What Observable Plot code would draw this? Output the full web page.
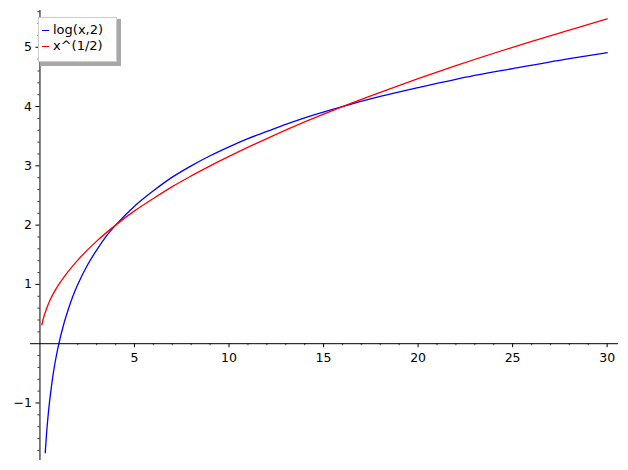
<!DOCTYPE html>
<html>
<head>
<meta charset="utf-8">
<script src="https://cdn.jsdelivr.net/npm/d3@7"></script>
<script src="https://cdn.jsdelivr.net/npm/@observablehq/plot@0.6"></script>
<style>
  body { margin: 0; background: #fff; font-family: "DejaVu Sans", sans-serif; }
  #wrap { position: relative; width: 628px; height: 470px; }
  #legend {
    position: absolute; left: 38px; top: 17px; width: 79px; height: 45px;
    background: #fff; border: 1px solid #cccccc; box-sizing: border-box;
    box-shadow: 3px 3px 0 1px #a8a8a8;
    font: 13px "DejaVu Sans", sans-serif; color: #000;
  }
  .row { position: absolute; left: 3px; height: 16px; line-height: 16px; white-space: nowrap; }
  .sw { display: inline-block; width: 7px; height: 0; border-top: 1.3px solid; vertical-align: middle; margin-right: 4px; }
</style>
</head>
<body>
<div id="wrap"></div>
<script>
// Series
const logX = [0.28, 0.3, 0.35, 0.4, 0.45, 0.5, 0.6, 0.7, 0.8, 0.9, 1, 1.25, 1.5, 1.75, 2, 2.5, 3, 3.5, 4, 5, 6, 7, 8, 9, 10, 11, 12, 13, 14, 16, 18, 20, 22, 25, 28, 30];
const logY = [-1.84, -1.74, -1.51, -1.32, -1.15, -1, -0.74, -0.51, -0.32, -0.15, 0, 0.32, 0.58, 0.81, 1, 1.32, 1.58, 1.81, 2, 2.32, 2.58, 2.81, 3, 3.17, 3.32, 3.46, 3.58, 3.70, 3.81, 4, 4.17, 4.32, 4.46, 4.64, 4.81, 4.91];
const sqrtX = [0.1, 0.2, 0.35, 0.5, 0.75, 1, 1.5, 2, 3, 4, 5, 6, 7, 8, 9, 10, 12, 14, 16, 18, 20, 22, 25, 28, 30];
const sqrtY = [0.32, 0.45, 0.59, 0.71, 0.87, 1, 1.22, 1.41, 1.73, 2, 2.24, 2.45, 2.65, 2.83, 3, 3.16, 3.46, 3.74, 4, 4.24, 4.47, 4.69, 5, 5.29, 5.48];
const seriesNames = ["log(x,2)", "x^(1/2)"];
const seriesColors = ["blue", "red"];

// Tick labels
const xMajor = [5, 10, 15, 20, 25, 30];
const yMajor = [-1, 1, 2, 3, 4, 5];
const xMinor = d3.range(1, 31).filter(v => v % 5 !== 0);
const yMinor = d3.range(-9, 29).map(i => +(i * 0.2).toFixed(1)).filter(v => Math.abs(v - Math.round(v)) > 1e-9);

const W = 628, H = 470;
const xDom = [-0.5, 30.6], xRange = [30, 618];
const yDom = [-1.97, 5.62], yRange = [460, 10];
const yPerPx = (yDom[1] - yDom[0]) / (yRange[0] - yRange[1]);
const xPerPx = (xDom[1] - xDom[0]) / (xRange[1] - xRange[0]);

const logData = logX.map((x, i) => ({x, y: logY[i]}));
const sqrtData = sqrtX.map((x, i) => ({x, y: sqrtY[i]}));

const fmt = v => v < 0 ? "\u2212" + Math.abs(v) : String(v);

const chart = Plot.plot({
  width: W, height: H,
  marginLeft: 0, marginRight: 0, marginTop: 0, marginBottom: 0,
  style: {fontFamily: "DejaVu Sans, sans-serif", fontSize: "12px", background: "white", overflow: "visible"},
  x: {domain: xDom, range: xRange, axis: null},
  y: {domain: yDom, range: yRange, axis: null},
  marks: [
    Plot.ruleY([0], {x1: xDom[0], x2: xDom[1], stroke: "black", strokeWidth: 1}),
    Plot.ruleX([0], {y1: yDom[0], y2: yDom[1], stroke: "black", strokeWidth: 1}),
    // x ticks
    Plot.ruleX(xMajor, {x: d => d, y1: 0, y2: -4 * yPerPx, stroke: "black", strokeWidth: 1}),
    Plot.ruleX(xMinor, {x: d => d, y1: 0, y2: -2 * yPerPx, stroke: "black", strokeWidth: 0.8}),
    Plot.text(xMajor, {x: d => d, y: 0, dy: 14, text: d => fmt(d), fill: "#000", fontSize: 12.5}),
    // y ticks
    Plot.ruleY(yMajor, {y: d => d, x1: 0, x2: -4 * xPerPx, stroke: "black", strokeWidth: 1}),
    Plot.ruleY(yMinor, {y: d => d, x1: 0, x2: -2 * xPerPx, stroke: "black", strokeWidth: 0.8}),
    Plot.text(yMajor, {x: 0, y: d => d, dx: -8, text: d => fmt(d), textAnchor: "end", fill: "#000", fontSize: 12.5}),
    // curves
    Plot.line(logData, {x: "x", y: "y", stroke: seriesColors[0], strokeWidth: 1.3, curve: "monotone-x"}),
    Plot.line(sqrtData, {x: "x", y: "y", stroke: seriesColors[1], strokeWidth: 1.3, curve: "monotone-x"})
  ]
});

const wrap = document.getElementById("wrap");
wrap.appendChild(chart);

const legend = document.createElement("div");
legend.id = "legend";
seriesNames.forEach((name, i) => {
  const row = document.createElement("div");
  row.className = "row";
  row.style.top = (4 + i * 16) + "px";
  const sw = document.createElement("span");
  sw.className = "sw";
  sw.style.borderTopColor = seriesColors[i];
  row.appendChild(sw);
  row.appendChild(document.createTextNode(name));
  legend.appendChild(row);
});
wrap.appendChild(legend);
</script>
</body>
</html>
